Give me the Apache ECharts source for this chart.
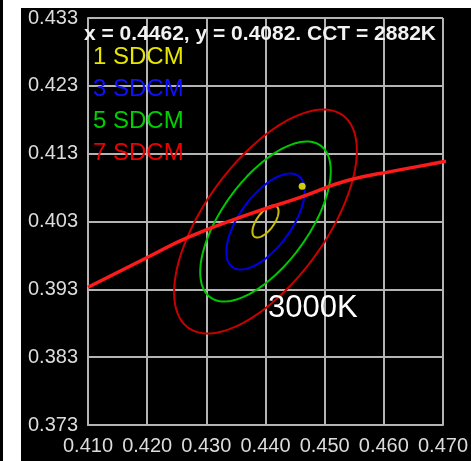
<!DOCTYPE html>
<html>
<head>
<meta charset="utf-8">
<script src="https://cdn.jsdelivr.net/npm/echarts@6/dist/echarts.min.js"></script>
<style>
    body { margin: 0; background: #fff; }
    #edge { position: absolute; left: 0; top: 0; width: 3px; height: 461px; background: #000; }
    #main1 { position: absolute; left: 21px; top: 8px; width: 450px; height: 453px; }
</style>
</head>
<body>
<div id="edge"></div>
<div id="main1"></div>
<script type="text/javascript">
    // 数据
    var xTicks = [0.410, 0.470];
    var yTicks = [0.373, 0.433];
    // Planck locus
    var locusX = [0.410, 0.420, 0.427, 0.437, 0.446, 0.4537, 0.462, 0.470, 0.474];
    var locusY = [0.3933, 0.3977, 0.4007, 0.4040, 0.4066, 0.4090, 0.4105, 0.4118, 0.4126];
    // measured point
    var pointXY = [0.4462, 0.4082];
    // MacAdam ellipses (1 step): centre, semi axes, angle in degrees
    var ellipseCenter = [0.440, 0.403];
    var ellipseAB = [0.00292, 0.00138];
    var ellipseAngle = 48;
    var sdcmSteps = [1, 3, 5, 7];
    var sdcmNames = ['1 SDCM', '3 SDCM', '5 SDCM', '7 SDCM'];
    var titleText = 'x = 0.4462, y = 0.4082. CCT = 2882K';
    var cctText = '3000K';

    var textColors = ['#e6e600', '#1010ff', '#00d000', '#ee0000'];
    var ringColors = ['#c8c000', '#0000e6', '#00c800', '#c80000'];
    var font = '"Liberation Sans", Arial, sans-serif';

    var myChart = echarts.init(document.getElementById('main1'));

    var locusData = locusX.map(function (x, i) { return [x, locusY[i]]; });

    var ellipseSeries = sdcmSteps.map(function (step, k) {
        return {
            name: sdcmNames[k],
            type: 'custom',
            coordinateSystem: 'cartesian2d',
            z: 3,
            data: [[ellipseCenter[0], ellipseCenter[1], step]],
            renderItem: function (params, api) {
                var cx = api.value(0), cy = api.value(1), s = api.value(2);
                var th = ellipseAngle * Math.PI / 180;
                var pts = [];
                for (var i = 0; i < 120; i++) {
                    var t = i / 120 * Math.PI * 2;
                    var dx = ellipseAB[0] * s * Math.cos(t);
                    var dy = ellipseAB[1] * s * Math.sin(t);
                    pts.push(api.coord([cx + dx * Math.cos(th) - dy * Math.sin(th),
                                        cy + dx * Math.sin(th) + dy * Math.cos(th)]));
                }
                return {
                    type: 'polygon',
                    shape: { points: pts },
                    style: { fill: 'none', stroke: ringColors[k], lineWidth: 2 }
                };
            }
        };
    });

    var graphics = sdcmNames.map(function (n, i) {
        return {
            type: 'text', x: 72, y: 49 + i * 32, z: 10,
            style: { text: n, fill: textColors[i], font: '24px ' + font, verticalAlign: 'middle' }
        };
    });
    graphics.push({
        type: 'text', x: 247, y: 300, z: 10,
        style: { text: cctText, fill: '#fff', font: '31px ' + font, verticalAlign: 'middle' }
    });

    var option = {
        backgroundColor: '#000',
        animation: false,
        title: {
            text: titleText,
            left: 63,
            top: 16,
            padding: 0,
            textStyle: { color: '#f2f2f2', fontSize: 21, fontWeight: 'bold', fontFamily: font }
        },
        grid: { left: 67, right: 24, top: 9, bottom: 36 },
        xAxis: {
            type: 'value',
            min: xTicks[0],
            max: xTicks[1],
            interval: 0.01,
            axisLine: { lineStyle: { color: '#b4b4b4', width: 2 } },
            axisTick: { show: false },
            splitLine: { lineStyle: { color: '#b4b4b4', width: 2 } },
            axisLabel: {
                color: '#dcdcdc', fontSize: 20, fontFamily: font, margin: 11,
                formatter: function (v) { return v.toFixed(3); }
            }
        },
        yAxis: {
            type: 'value',
            min: yTicks[0],
            max: yTicks[1],
            interval: 0.01,
            axisLine: { lineStyle: { color: '#b4b4b4', width: 2 } },
            axisTick: { show: false },
            splitLine: { lineStyle: { color: '#b4b4b4', width: 2 } },
            axisLabel: {
                color: '#dcdcdc', fontSize: 20, fontFamily: font, margin: 10,
                formatter: function (v) { return v.toFixed(3); }
            }
        },
        graphic: graphics,
        series: ellipseSeries.concat([
            {
                name: 'locus',
                type: 'line',
                data: locusData,
                smooth: true,
                showSymbol: false,
                clip: false,
                z: 4,
                lineStyle: { color: '#ff1a1a', width: 3.5 }
            },
            {
                name: 'point',
                type: 'scatter',
                data: [pointXY],
                symbolSize: 7,
                z: 5,
                itemStyle: { color: '#ffff00' }
            }
        ])
    };
    myChart.setOption(option);
</script>
</body>
</html>
